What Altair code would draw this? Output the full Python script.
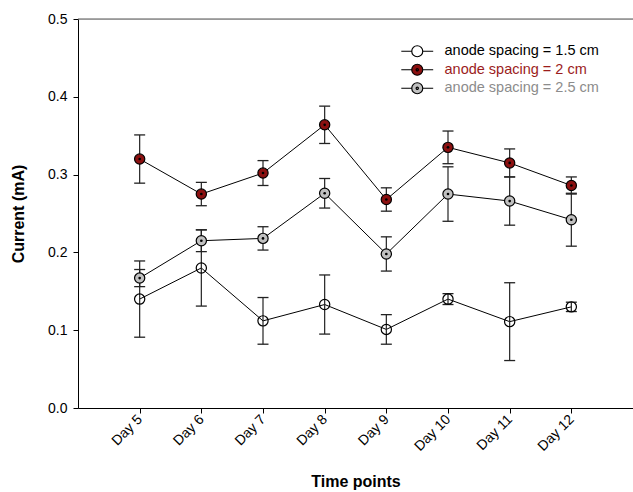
import altair as alt
import pandas as pd

days = [5, 6, 7, 8, 9, 10, 11, 12]
series_names = ["anode spacing = 1.5 cm", "anode spacing = 2 cm", "anode spacing = 2.5 cm"]
cur_15 = [0.140, 0.180, 0.112, 0.133, 0.101, 0.140, 0.111, 0.130]
err_15 = [0.049, 0.049, 0.030, 0.038, 0.019, 0.007, 0.050, 0.006]
cur_20 = [0.320, 0.275, 0.302, 0.364, 0.268, 0.335, 0.315, 0.286]
err_20 = [0.031, 0.015, 0.016, 0.024, 0.015, 0.021, 0.018, 0.011]
cur_25 = [0.167, 0.215, 0.218, 0.276, 0.198, 0.275, 0.266, 0.242]
err_25 = [0.011, 0.014, 0.015, 0.019, 0.022, 0.035, 0.031, 0.034]

RED = "#8b1010"
GRAY = "#c0c0c0"
RED_TXT = "#9b1c1c"
GRAY_TXT = "#8c8c8c"

rows = []
for name, cur, err in zip(series_names, [cur_15, cur_20, cur_25], [err_15, err_20, err_25]):
    for d, c, e in zip(days, cur, err):
        rows.append({"day": d, "series": name, "current": c, "lo": c - e, "hi": c + e})
df = pd.DataFrame(rows)

FONT = "Liberation Sans"

x = alt.X("day:Q", scale=alt.Scale(domain=[4, 13], nice=False, zero=False),
          axis=alt.Axis(values=days, labelExpr="'Day ' + datum.value", labelAngle=-45,
                        labelAlign="right", labelBaseline="middle", labelFontSize=14,
                        labelFont=FONT, labelColor="black", labelPadding=4,
                        tickSize=5, tickColor="black", domainColor="black", grid=False,
                        title="Time points", titleFont=FONT, titleFontSize=16,
                        titleFontWeight="bold", titleColor="black", titlePadding=20))
y = alt.Y("current:Q", scale=alt.Scale(domain=[0, 0.5], nice=False),
          axis=alt.Axis(values=[0, 0.1, 0.2, 0.3, 0.4, 0.5], format=".1f", labelFontSize=14,
                        labelFont=FONT, labelColor="black", tickSize=5, tickColor="black",
                        labelPadding=6,
                        domainColor="black", grid=False, title="Current (mA)",
                        titleFont=FONT, titleFontSize=16, titleFontWeight="bold",
                        titleColor="black", titlePadding=21))

base = alt.Chart(df)

lines = base.mark_line(color="black", strokeWidth=1, opacity=1).encode(x=x, y=y, detail="series:N")

rules = base.mark_rule(color="#222222", strokeWidth=1.2, opacity=1).encode(x="day:Q", y="lo:Q", y2="hi:Q")
cap_lo = base.mark_tick(orient="horizontal", size=11, thickness=1.3, color="#222222", opacity=1).encode(x="day:Q", y="lo:Q")
cap_hi = base.mark_tick(orient="horizontal", size=11, thickness=1.3, color="#222222", opacity=1).encode(x="day:Q", y="hi:Q")

fill_cond = {
    "condition": [
        {"test": f"datum.series === '{series_names[1]}'", "value": RED},
        {"test": f"datum.series === '{series_names[2]}'", "value": GRAY},
    ],
    "value": "transparent",
}
points = base.mark_point(filled=True, size=105, stroke="black", strokeWidth=1.2, shape="circle", opacity=1).encode(
    x="day:Q", y="current:Q", fill=fill_cond)

dots = base.transform_filter(f"datum.series !== '{series_names[0]}'").mark_point(
    filled=True, size=7, color="black", shape="circle", opacity=1).encode(x="day:Q", y="current:Q")

top_line = alt.Chart(pd.DataFrame({"v": [0.5]})).mark_rule(color="#555555", strokeWidth=1).encode(y="v:Q")

ring = "M2.9,0L1,0M-1,0L-2.9,0M1,0A1,1 0 1,1 -1,0A1,1 0 1,1 1,0Z"
dot = "M0.2,0A0.2,0.2 0 1,1 -0.2,0A0.2,0.2 0 1,1 0.2,0Z"
leg = dict(orient="none", legendX=332, legendY=25, title=None)
legend_layer = base.transform_filter("false").mark_point(
    filled=True, size=121, stroke="black", strokeWidth=1.2, opacity=1).encode(
    x="day:Q", y="current:Q",
    fill=alt.Fill("series:N", scale=alt.Scale(domain=series_names, range=["white", RED, GRAY]),
                  legend=alt.Legend(
                      **leg,
                      symbolOpacity=1, symbolStrokeColor="black",
                      symbolStrokeWidth=1.2,
                      symbolSize=121, labelFont=FONT, labelFontSize=14.5, labelOffset=20,
                      rowPadding=1.5,
                      labelColor={"expr": f"datum.label === '{series_names[1]}' ? '{RED_TXT}' : datum.label === '{series_names[2]}' ? '{GRAY_TXT}' : 'black'"},
                  )),
    shape=alt.Shape("series:N", scale=alt.Scale(domain=series_names, range=[ring, ring + dot, ring + dot]),
                    legend=alt.Legend(**leg)),
)

chart = alt.layer(top_line, lines, rules, cap_lo, cap_hi, points, dots, legend_layer).properties(
    width=555, height=389,
    autosize=alt.AutoSizeParams(type="none"),
    padding={"left": 78, "top": 19, "right": 0, "bottom": 84},
).configure_view(stroke=None).configure(background="white")

chart.save("out.html", embed_options={"renderer": "svg", "actions": False})
